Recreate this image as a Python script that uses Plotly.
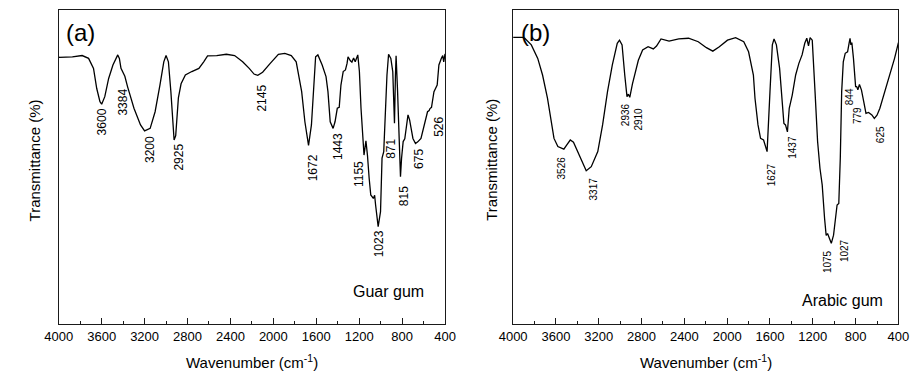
import numpy as np
import plotly.graph_objects as go

# ---------------- FTIR spectra (transmittance, arbitrary units) ----------------
# (a) Guar gum
wn_guar = [4000, 3994, 3873, 3782, 3722, 3676, 3646, 3616, 3600, 3571, 3535, 3495,
           3450, 3435, 3420, 3400, 3384, 3359, 3299, 3238, 3200, 3148, 3102, 3057,
           3021, 3000, 2978, 2955, 2938, 2925, 2910, 2885, 2860, 2820, 2760, 2694,
           2649, 2613, 2528, 2438, 2361, 2286, 2225, 2180, 2145, 2100, 2029, 1953,
           1893, 1833, 1787, 1767, 1736, 1706, 1672, 1645, 1621, 1606, 1585, 1545,
           1509, 1491, 1470, 1443, 1425, 1404, 1386, 1370, 1349, 1328, 1313, 1304,
           1282, 1268, 1252, 1237, 1213, 1198, 1183, 1155, 1137, 1123, 1107, 1092,
           1068, 1056, 1047, 1032, 1023, 1001, 987, 971, 956, 941, 926, 905, 887,
           871, 862, 856, 842, 815, 805, 790, 775, 760, 745, 730, 699, 675, 654,
           624, 593, 563, 548, 540, 526, 515, 503, 473, 457, 434, 421, 412, 403, 400]
tr_guar = [85.0, 84.9, 85.1, 85.5, 84.6, 81.4, 75.0, 70.8, 70.0, 72.4, 78.2, 82.5,
           85.7, 84.6, 81.4, 79.8, 78.9, 75.6, 68.7, 63.4, 61.5, 62.3, 67.6, 76.1,
           83.5, 85.5, 83.5, 74.0, 64.4, 58.6, 60.0, 72.0, 76.5, 79.3, 80.4, 81.4,
           83.5, 85.4, 85.5, 85.9, 85.5, 83.5, 81.4, 79.6, 79.2, 80.2, 83.0, 85.9,
           86.2, 85.5, 83.5, 79.3, 74.0, 64.4, 56.9, 63.4, 79.3, 85.1, 85.7, 82.5,
           78.8, 74.0, 64.4, 62.3, 64.4, 68.7, 69.0, 76.1, 80.4, 80.9, 83.0, 85.1,
           83.8, 83.4, 84.7, 83.5, 85.7, 80.4, 68.7, 53.8, 58.3, 53.8, 46.4, 41.1,
           40.0, 41.0, 37.9, 32.6, 31.0, 35.8, 52.8, 54.9, 68.7, 79.3, 85.9, 84.6, 80.4,
           63.9, 79.3, 85.4, 74.0, 46.9, 52.8, 58.1, 59.0, 63.4, 66.6, 65.0, 59.1, 57.5, 58.0,
           59.1, 63.4, 67.6, 68.0, 68.6, 69.0, 71.5, 74.0, 76.1, 82.5, 84.6, 85.5, 83.5, 86.0, 86.0]

# (b) Arabic gum
wn_arabic = [4000, 3910, 3891, 3830, 3770, 3725, 3679, 3648, 3618, 3582, 3526, 3500,
             3466, 3436, 3391, 3345, 3317, 3270, 3209, 3164, 3118, 3073, 3027, 3006,
             2982, 2957, 2936, 2923, 2910, 2885, 2860, 2830, 2790, 2739, 2690, 2660,
             2618, 2543, 2452, 2361, 2270, 2194, 2134, 2073, 1997, 1921, 1845, 1800,
             1755, 1740, 1712, 1688, 1660, 1627, 1600, 1578, 1562, 1540, 1510, 1488,
             1470, 1455, 1437, 1420, 1392, 1360, 1330, 1300, 1275, 1256, 1240, 1225,
             1205, 1179, 1155, 1133, 1112, 1090, 1085, 1075, 1062, 1048, 1036, 1027,
             1006, 991, 973, 957, 943, 930, 915, 897, 875, 861, 852, 844, 835, 820,
             800, 790, 779, 764, 745, 724, 703, 679, 648, 625, 600, 573, 527, 482, 436, 400]
tr_arabic = [91.3, 91.3, 91.0, 88.9, 84.6, 79.3, 71.9, 65.5, 59.1, 56.5, 55.7, 57.0,
             58.6, 57.9, 54.4, 50.6, 48.8, 50.1, 54.9, 63.4, 74.0, 82.5, 89.4, 90.4,
             88.9, 79.3, 72.4, 73.2, 72.2, 76.5, 80.0, 84.0, 87.3, 88.3, 87.6, 88.5,
             90.8, 90.1, 90.8, 91.0, 89.9, 88.0, 86.9, 88.3, 90.4, 91.2, 89.9, 86.7,
             79.3, 71.9, 63.4, 59.1, 58.6, 54.9, 74.0, 88.9, 90.8, 88.9, 81.4, 70.8,
             63.9, 63.4, 61.2, 68.7, 72.9, 79.3, 83.0, 85.7, 89.4, 91.0, 88.6, 91.2,
             90.4, 74.0, 58.1, 49.6, 44.3, 33.7, 30.5, 28.2, 28.8, 27.6, 26.8, 25.7,
             28.3, 33.7, 37.9, 38.4, 52.8, 74.0, 83.5, 86.2, 86.7, 89.4, 91.0, 88.9, 89.6, 84.6,
             75.6, 75.6, 74.6, 76.3, 74.5, 70.8, 67.1, 67.4, 66.6, 65.5, 66.5, 68.7, 74.0, 79.3, 84.6, 89.6]

# Peak labels: wavenumber, (x offset px, gap below curve px)
peaks_guar = [3600, 3384, 3200, 2925, 2145, 1672, 1443, 1155, 1023, 871, 815, 675, 526]
place_guar = {3600: (0, 3), 3384: (-2, 11), 3200: (6, 4), 2925: (4, 3), 2145: (4, 8),
              1672: (4, 8), 1443: (5, 4), 1155: (-5, 5), 1023: (1, 3), 871: (-3, 14),
              815: (3, 8), 675: (4, 5), 526: (8, 8)}
peaks_arabic = [3526, 3317, 2936, 2910, 1627, 1437, 1075, 1027, 844, 779, 625]
place_arabic = {3526: (-2, 6), 3317: (7, 6), 2936: (-2, 5), 2910: (9, 9), 1627: (4, 11),
                1437: (5, 3), 1075: (2, 14), 1027: (13, -5), 844: (-2, 42), 779: (-1, 16),
                625: (6, 7)}

FONT = "Liberation Sans, Arial, sans-serif"
W, H = 924, 373
LINE = "#1a1a1a"

fig = go.Figure()
fig.add_trace(go.Scatter(x=wn_guar, y=tr_guar, mode="lines",
                         line=dict(color="black", width=1.3), xaxis="x", yaxis="y",
                         showlegend=False, hoverinfo="skip"))
fig.add_trace(go.Scatter(x=wn_arabic, y=tr_arabic, mode="lines",
                         line=dict(color="black", width=1.3), xaxis="x2", yaxis="y2",
                         showlegend=False, hoverinfo="skip"))

dom_a = [46 / W, 443 / W]
dom_b = [513 / W, 909 / W]
dom_y = [1 - 324 / H, 1 - 10 / H]

xcommon = dict(range=[4000, 400], tickmode="linear", tick0=400, dtick=400,
               ticks="inside", ticklen=6, tickwidth=1, tickcolor=LINE,
               minor=dict(ticks="inside", ticklen=3, dtick=200, tick0=400,
                          tickcolor=LINE, tickwidth=1),
               showline=True, linecolor=LINE, linewidth=1, mirror=True,
               showgrid=False, zeroline=False,
               tickfont=dict(family=FONT, size=13, color="black"))
ycommon = dict(range=[0, 100], showticklabels=False, ticks="", showline=True,
               linecolor=LINE, linewidth=1, mirror=True, showgrid=False, zeroline=False)

fig.update_layout(
    width=W, height=H, margin=dict(l=0, r=0, t=0, b=0),
    paper_bgcolor="white", plot_bgcolor="white",
    xaxis=dict(domain=dom_a, anchor="y", **xcommon),
    yaxis=dict(domain=dom_y, anchor="x", **ycommon),
    xaxis2=dict(domain=dom_b, anchor="y2", **xcommon),
    yaxis2=dict(domain=dom_y, anchor="x2", **ycommon),
)

ann = []


def peak_labels(wn, tr, peaks, place, xr, yr, size):
    order = np.argsort(wn)
    xs = np.array(wn, dtype=float)[order]
    ys = np.array(tr, dtype=float)[order]
    for p in peaks:
        dx, gap = place[p]
        ann.append(dict(x=p, y=float(np.interp(p, xs, ys)), xref=xr, yref=yr,
                        text=str(p), showarrow=False, textangle=-90,
                        xanchor="center", yanchor="top", xshift=dx, yshift=-gap,
                        borderpad=0, font=dict(family=FONT, size=size, color="black")))


peak_labels(wn_guar, tr_guar, peaks_guar, place_guar, "x", "y", 12)
peak_labels(wn_arabic, tr_arabic, peaks_arabic, place_arabic, "x2", "y2", 10)

# panel letters and sample names
for xr, yr, letter, lx, name, nx, ny in [("x domain", "y domain", "(a)", 0.013, "Guar gum", 0.952, 0.1035),
                                         ("x2 domain", "y2 domain", "(b)", 0.016, "Arabic gum", 0.965, 0.075)]:
    ann.append(dict(x=lx, y=0.927, xref=xr, yref=yr,
                    text=letter, showarrow=False, xanchor="left", yanchor="middle",
                    font=dict(family=FONT, size=24, color="black")))
    ann.append(dict(x=nx, y=ny, xref=xr, yref=yr, text=name, showarrow=False,
                    xanchor="right", yanchor="middle",
                    font=dict(family=FONT, size=16, color="black")))

# axis titles
for dom, xt in [(dom_a, 21 / W), (dom_b, 490 / W)]:
    ann.append(dict(x=(dom[0] + dom[1]) / 2, y=1 - 361.7 / H, xref="paper", yref="paper",
                    text="Wavenumber (cm<sup>-1</sup>)", showarrow=False,
                    xanchor="center", yanchor="middle",
                    font=dict(family=FONT, size=15, color="black")))
    ann.append(dict(x=xt, y=1 - 160 / H, xref="paper", yref="paper",
                    text="Transmittance (%)", showarrow=False, textangle=-90,
                    xanchor="center", yanchor="middle",
                    font=dict(family=FONT, size=15, color="black")))

fig.update_layout(annotations=ann)
fig.write_html("out.html")
